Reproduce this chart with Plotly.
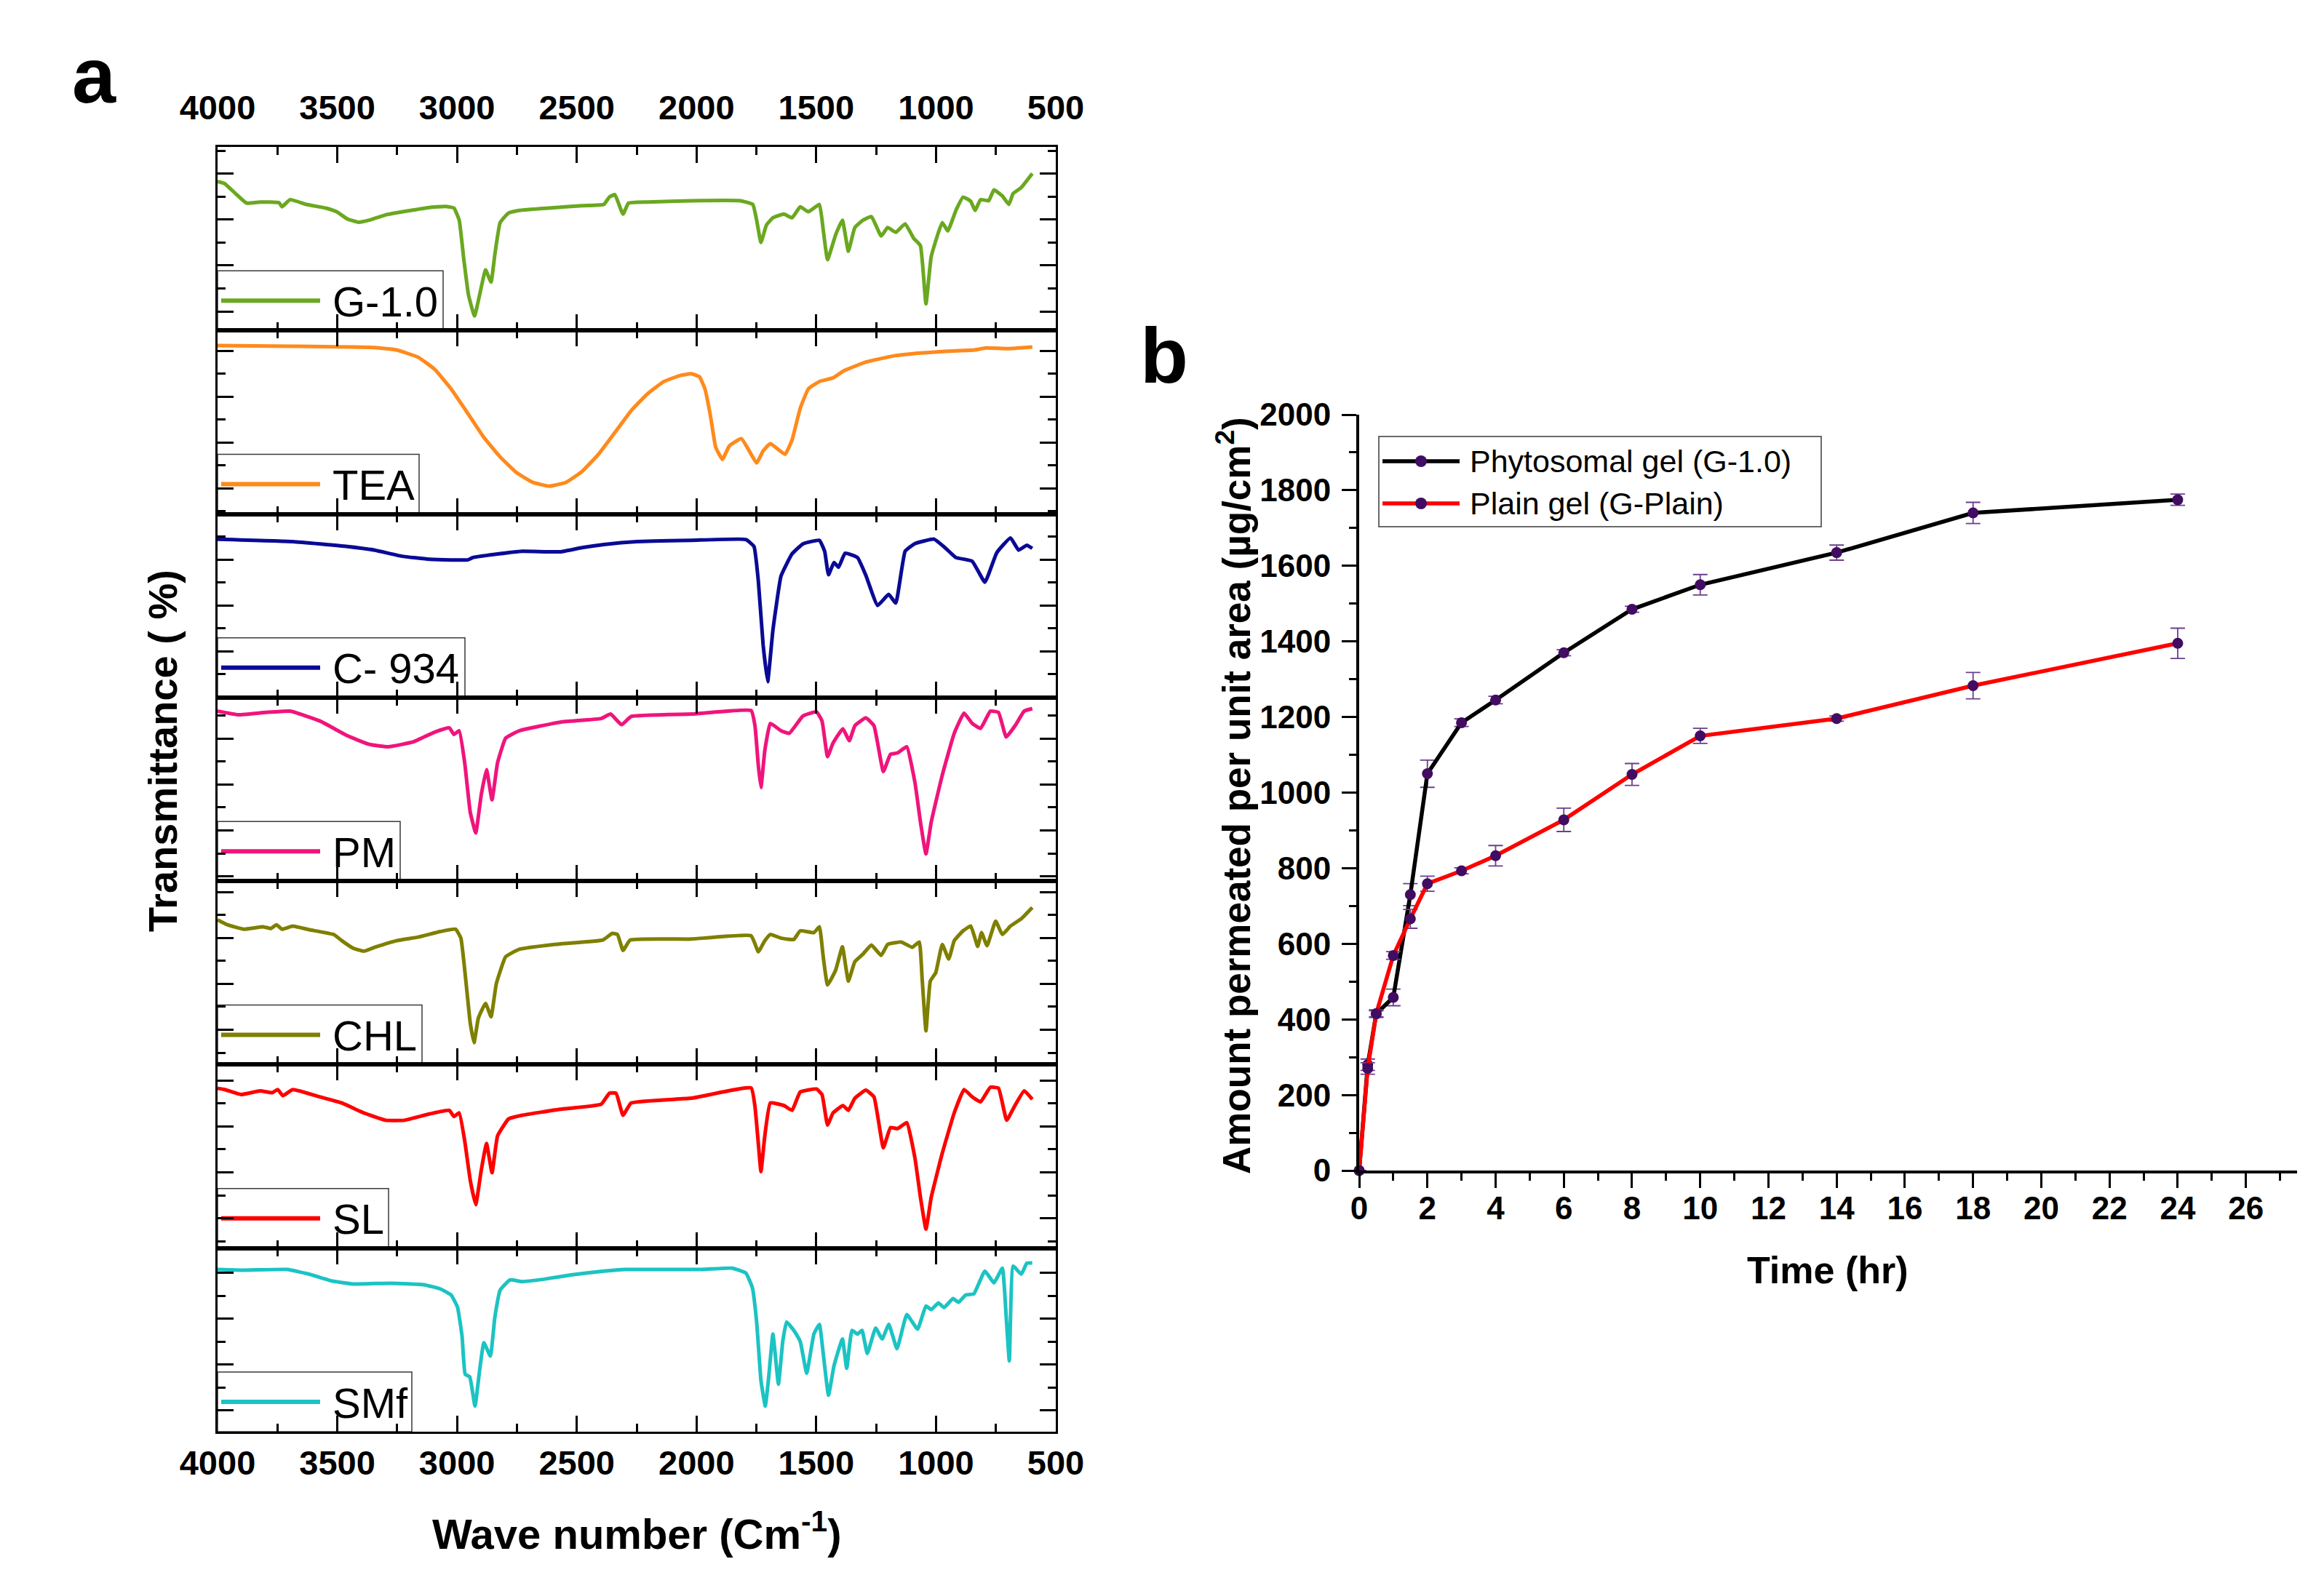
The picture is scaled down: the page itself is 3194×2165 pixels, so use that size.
import plotly.graph_objects as go

W, H = 3194, 2165
FONT = "Arial, Liberation Sans, Helvetica, sans-serif"

# ---------------- Panel a: FTIR spectra (wave number, relative transmittance %) ----------------
spectra_names = ["G-1.0", "TEA", "C- 934", "PM", "CHL", "SL", "SMf"]
spectra_colors = ["#6aa820", "#ff8a1c", "#0a0a96", "#f0147c", "#7f7f00", "#ff0000", "#1cc3c3"]

g10 = [(4000, 81.2), (3970, 80), (3925, 74.6), (3879, 69.4), (3822, 70), (3743, 69.6), (3731, 67.4),
       (3697, 71.3), (3629, 68.7), (3549, 66.7), (3503, 64.7), (3458, 60.8), (3412, 59), (3367, 60.1),
       (3298, 63), (3207, 65.1), (3116, 67), (3048, 67.6), (3013, 66.7), (2991, 60.1), (2972, 39),
       (2952, 19.2), (2927, 7.9), (2904, 20.5), (2881, 33), (2858, 26.4), (2842, 41.6), (2820, 58.8),
       (2785, 64), (2740, 65.4), (2615, 66.7), (2478, 68), (2387, 68.7), (2364, 72.7), (2341, 74),
       (2307, 63.4), (2284, 69.4), (2204, 70), (2022, 70.7), (1817, 70.7), (1765, 68.7), (1749, 60.1),
       (1731, 48), (1708, 57.5), (1681, 61.4), (1635, 63.4), (1601, 61.4), (1567, 67.4), (1533, 64.7),
       (1487, 68.7), (1471, 54.8), (1453, 38.6), (1419, 52.2), (1391, 60.1), (1366, 43.2), (1339, 56.1),
       (1305, 60.1), (1270, 62.1), (1229, 51.5), (1202, 56.1), (1168, 53.5), (1129, 58.1), (1093, 50.2),
       (1065, 46.2), (1042, 14.5), (1020, 40.3), (974, 58.8), (951, 54.2), (917, 65.4), (887, 72.7),
       (855, 70.4), (837, 65.4), (814, 71.3), (780, 70.7), (758, 76.6), (723, 73.3), (696, 68.7),
       (678, 74.6), (644, 77.9), (598, 85.5)]

tea = [(4000, 91.8), (3686, 91.4), (3344, 90.7), (3253, 89.4), (3162, 85.4), (3093, 78.8), (3025, 68.2),
       (2956, 55), (2888, 41.7), (2820, 31.1), (2751, 22.5), (2683, 17.2), (2615, 15.2), (2546, 17.2),
       (2478, 23.2), (2410, 32.5), (2341, 44.4), (2273, 56.3), (2204, 65.6), (2136, 72.2), (2068, 75.5),
       (2022, 76.4), (1988, 74.8), (1965, 68.2), (1942, 53.6), (1920, 36.4), (1892, 29.8), (1863, 37.1),
       (1813, 41.1), (1783, 35.1), (1749, 27.8), (1722, 34.4), (1692, 38.4), (1658, 35.1), (1630, 32.5),
       (1601, 40.4), (1567, 57.6), (1533, 68.2), (1487, 72.2), (1430, 74.2), (1384, 78.1), (1293, 82.8),
       (1179, 86.1), (1065, 87.7), (951, 88.7), (837, 89.4), (792, 90.5), (701, 90.1), (598, 91)]

c934 = [(4000, 86.3), (3686, 85), (3458, 82.3), (3344, 80.3), (3230, 77), (3116, 75.4), (3025, 75),
        (2956, 75), (2934, 76.3), (2842, 78), (2728, 79.7), (2569, 79.4), (2478, 81.7), (2387, 83.4),
        (2250, 85), (2022, 85.7), (1794, 86.1), (1760, 82.3), (1742, 63.6), (1722, 28.8), (1703, 8.7),
        (1681, 36.8), (1647, 66.3), (1601, 78.3), (1556, 83.7), (1487, 85.7), (1465, 79.7), (1449, 66.9),
        (1426, 73.6), (1407, 71), (1380, 78.6), (1328, 76.3), (1294, 66.9), (1244, 50.2), (1198, 56.2),
        (1168, 51.5), (1129, 79.7), (1088, 83.9), (1008, 86.3), (963, 81.7), (917, 76.3), (849, 74.3),
        (796, 62.9), (746, 79), (689, 87), (655, 80.3), (621, 83), (598, 81.3)]

pm = [(4000, 92.6), (3913, 90.6), (3799, 91.9), (3697, 92.6), (3572, 87.2), (3458, 79.2), (3367, 74.5),
      (3287, 73.2), (3184, 75.8), (3093, 81.2), (3032, 83.5), (3013, 79.9), (2991, 81.9), (2968, 64.4),
      (2945, 37.6), (2922, 26.2), (2899, 47), (2877, 60.7), (2854, 44.3), (2831, 64.4), (2797, 77.9),
      (2740, 81.9), (2569, 86.6), (2398, 88.6), (2359, 91), (2313, 85.2), (2273, 89.7), (2022, 91),
      (1772, 92.9), (1756, 84.6), (1742, 63.1), (1731, 51), (1715, 71.1), (1692, 85.9), (1647, 81.9),
      (1613, 80.5), (1556, 89.9), (1499, 92.2), (1476, 87.2), (1453, 67.8), (1430, 75.2), (1389, 83),
      (1362, 76.5), (1339, 84.6), (1293, 88.9), (1259, 84.6), (1220, 59.7), (1190, 69.1), (1161, 69.8),
      (1122, 73.2), (1088, 53.7), (1065, 32.2), (1042, 14.8), (1020, 32.2), (974, 57.7), (924, 80.5),
      (883, 91.5), (849, 85.9), (814, 83.2), (773, 92.6), (739, 91.9), (707, 78.5), (667, 85.2),
      (632, 92.6), (598, 94)]

chl = [(4000, 78.9), (3959, 76.2), (3891, 73.8), (3811, 75.1), (3777, 74.2), (3754, 76.2), (3731, 73.8),
       (3686, 75.5), (3617, 73.5), (3515, 70.9), (3481, 67.5), (3435, 63.5), (3390, 61.8), (3344, 63.9),
       (3253, 67.5), (3162, 69.5), (3070, 72.5), (3006, 73.8), (2984, 68.9), (2961, 42.8), (2945, 22.7),
       (2929, 12), (2911, 25.4), (2881, 33.4), (2858, 26.1), (2836, 44.1), (2797, 58.8), (2740, 62.8),
       (2569, 65.8), (2391, 67.9), (2352, 71.5), (2330, 70.9), (2307, 62.2), (2277, 67.9), (2022, 68.4),
       (1772, 70.2), (1742, 61.5), (1715, 67.5), (1692, 70.9), (1647, 68.9), (1594, 68.2), (1567, 72.9),
       (1510, 71.9), (1487, 75.1), (1471, 58.8), (1453, 43.4), (1419, 51.5), (1391, 64.2), (1366, 45.5),
       (1339, 56.1), (1305, 60.2), (1270, 65.2), (1229, 59.5), (1202, 65.5), (1145, 66.8), (1099, 63.9),
       (1070, 66.8), (1058, 46.8), (1042, 18.4), (1024, 45.5), (1001, 50.1), (974, 65.5), (947, 57.5),
       (924, 67.5), (887, 72.9), (855, 75.5), (826, 64.4), (810, 71.9), (787, 64.8), (751, 78.2),
       (723, 70.9), (689, 75.5), (644, 79.5), (598, 85.6)]

sl = [(4000, 87.1), (3970, 86.4), (3902, 83.7), (3822, 85.7), (3772, 84.7), (3749, 86.4), (3727, 83.1),
      (3686, 86.4), (3572, 82.4), (3481, 79.1), (3390, 73.7), (3298, 69.7), (3219, 69.7), (3116, 73.1),
      (3032, 75.1), (3013, 71.7), (2991, 73.7), (2968, 58.4), (2945, 37.1), (2922, 23.7), (2899, 42.4),
      (2877, 57.1), (2854, 41.1), (2831, 61.1), (2785, 70.4), (2728, 72.4), (2569, 75.7), (2398, 78.4),
      (2364, 84.4), (2336, 84.4), (2307, 72.4), (2273, 79.1), (2022, 81.7), (1772, 87.3), (1756, 77.1),
      (1742, 57.1), (1731, 41.7), (1715, 61.1), (1692, 79.1), (1635, 77.7), (1601, 75.1), (1567, 85.1),
      (1499, 86.7), (1476, 83.7), (1453, 67.1), (1430, 73.7), (1389, 77.7), (1366, 75.1), (1339, 81.7),
      (1293, 86.1), (1259, 82.4), (1220, 54.7), (1190, 65.7), (1161, 65.1), (1122, 68.4), (1088, 49.1),
      (1065, 27.7), (1042, 10.4), (1020, 27.7), (974, 51.7), (924, 73.7), (883, 86.4), (849, 82.4),
      (814, 79.7), (773, 87.7), (739, 87.1), (705, 69.7), (673, 77.1), (632, 85.7), (598, 81.1)]

smf = [(4000, 88.4), (3891, 88), (3708, 88.4), (3617, 85.8), (3526, 82.2), (3435, 80.5), (3275, 80.9),
       (3139, 80.1), (3070, 77.8), (3025, 74.5), (2998, 67.8), (2979, 51.9), (2966, 31.3), (2947, 29.9),
       (2925, 14), (2906, 33.2), (2888, 48.5), (2861, 41.2), (2842, 62.5), (2820, 77.1), (2779, 82.7),
       (2728, 81.8), (2637, 83.1), (2524, 85.4), (2387, 87.5), (2296, 88.4), (1977, 88.4), (1851, 89.1),
       (1794, 86.4), (1767, 78.5), (1749, 59.8), (1731, 27.9), (1713, 14), (1699, 29.3), (1681, 53.2),
       (1658, 25.9), (1640, 49.2), (1624, 59.8), (1590, 54.5), (1567, 49.2), (1540, 31.9), (1510, 53.2),
       (1487, 58.5), (1471, 42.6), (1449, 19.9), (1426, 35.9), (1391, 50.5), (1373, 34.6), (1351, 55.2),
       (1328, 53.2), (1309, 55.2), (1287, 42.6), (1252, 56.5), (1225, 50.5), (1197, 58.5), (1163, 45.2),
       (1122, 63.8), (1077, 55.9), (1042, 68.5), (1020, 66.5), (990, 70.2), (967, 67.6), (929, 72.5),
       (906, 70.5), (876, 74.5), (842, 75.1), (796, 87.5), (758, 81.1), (723, 89.1), (707, 62.5),
       (694, 38.6), (678, 90.2), (644, 85.8), (621, 91.8), (598, 92)]

spectra = [g10, tea, c934, pm, chl, sl, smf]
wn_ticks = [4000, 3500, 3000, 2500, 2000, 1500, 1000, 500]

# ---------------- Panel b: permeation profile ----------------
time_hr = [0, 0.25, 0.5, 1, 1.5, 2, 3, 4, 6, 8, 10, 14, 18, 24]
phyto = [0, 280, 415, 458, 730, 1050, 1185, 1245, 1370, 1485, 1550, 1635, 1740, 1775]
phyto_err = [0, 15, 8, 22, 29, 36, 10, 10, 8, 8, 27, 20, 28, 15]
plain = [0, 270, 415, 569, 666, 759, 793, 833, 928, 1048, 1150, 1196, 1283, 1395]
plain_err = [0, 15, 10, 10, 25, 20, 8, 27, 31, 29, 20, 7, 35, 40]
series_b_names = ["Phytosomal gel (G-1.0)", "Plain gel (G-Plain)"]
series_b_colors = ["#000000", "#ff0000"]

# ---------------- geometry (pixels) ----------------
A_LEFT, A_RIGHT, A_TOP, A_BOT = 299, 1451, 202, 1968
B_LEFT, B_RIGHT, B_TOP, B_BOT = 1868, 3157, 570, 1609
ytick0 = [10.4, 14, 0.2, 2.6, 19, 16.3, 11.6]
box_right = [609, 576, 639, 550, 580, 534, 566]


def fx(p):
    return p / W


def fy(p):
    return 1 - p / H


fig = go.Figure()
layout = {}
shapes = []
annotations = []
ph = (A_BOT - A_TOP) / 7

for i, data in enumerate(spectra):
    k = "" if i == 0 else str(i + 1)
    top = A_TOP + i * ph
    bot = top + ph
    fig.add_trace(go.Scatter(
        x=[p[0] for p in data], y=[p[1] for p in data], mode="lines",
        line=dict(color=spectra_colors[i], width=5, shape="spline", smoothing=0.35),
        xaxis="x" + k, yaxis="y" + k, showlegend=False, hoverinfo="skip"))
    layout["xaxis" + k] = dict(
        domain=[fx(A_LEFT), fx(A_RIGHT)], anchor="y" + k, range=[4000, 500], automargin=False,
        showline=True, linecolor="black", linewidth=3, mirror="ticks",
        ticks="inside", ticklen=22, tickwidth=3, tickcolor="black",
        tickmode="array", tickvals=wn_ticks, ticktext=[str(v) for v in wn_ticks],
        minor=dict(ticks="inside", ticklen=11, tickwidth=3, tickcolor="black",
                   tickmode="linear", tick0=500, dtick=250, showgrid=False),
        showgrid=False, zeroline=False,
        showticklabels=(i in (0, 6)), side="top" if i == 0 else "bottom",
        tickfont=dict(family=FONT, size=47, color="black", weight="bold"),
        ticklabelstandoff=16 if i == 0 else 0)
    layout["yaxis" + k] = dict(
        domain=[fy(bot), fy(top)], anchor="x" + k, range=[0, 100], automargin=False,
        showline=True, linecolor="black", linewidth=3, mirror="ticks",
        ticks="inside", ticklen=22, tickwidth=3, tickcolor="black",
        tickmode="linear", tick0=ytick0[i], dtick=25,
        minor=dict(ticks="inside", ticklen=11, tickwidth=3, tickcolor="black",
                   tickmode="linear", tick0=ytick0[i], dtick=12.5, showgrid=False),
        showgrid=False, zeroline=False, showticklabels=False)
    # legend box for each spectrum
    shapes.append(dict(type="rect", xref="paper", yref="paper", layer="below",
                       x0=fx(A_LEFT), x1=fx(box_right[i]), y0=fy(bot), y1=fy(bot - 82),
                       line=dict(color="#3a3a3a", width=1.5), fillcolor="white"))
    shapes.append(dict(type="line", xref="paper", yref="paper", layer="below",
                       x0=fx(304), x1=fx(440), y0=fy(bot - 41), y1=fy(bot - 41),
                       line=dict(color=spectra_colors[i], width=6)))
    annotations.append(dict(text=spectra_names[i], xref="paper", yref="paper",
                            x=fx(455), y=fy(bot - 40), xanchor="left", yanchor="middle",
                            showarrow=False, font=dict(family=FONT, size=58, color="black")))

# panel b traces
for vals, errs, col, nm in [(phyto, phyto_err, series_b_colors[0], series_b_names[0]),
                            (plain, plain_err, series_b_colors[1], series_b_names[1])]:
    fig.add_trace(go.Scatter(
        x=time_hr, y=vals, mode="lines+markers", name=nm,
        line=dict(color=col, width=5.5),
        marker=dict(color="#420c62", size=15),
        error_y=dict(type="data", array=errs, color="#6b3f8c", thickness=1.8, width=10),
        xaxis="x8", yaxis="y8", showlegend=False, cliponaxis=False))

axis_b_common = dict(showline=True, linecolor="black", linewidth=4, tickcolor="black",
                     tickwidth=3, showgrid=False, zeroline=False, automargin=False)
layout["xaxis8"] = dict(domain=[fx(B_LEFT), fx(B_RIGHT)], anchor="y8", range=[0, 27.5],
                        tickmode="linear", tick0=0, dtick=2, ticks="outside", ticklen=20,
                        minor=dict(ticks="outside", ticklen=10, tickwidth=3, tickcolor="black",
                                   tickmode="linear", tick0=0, dtick=1, showgrid=False),
                        tickfont=dict(family=FONT, size=44, color="black", weight="bold"),
                        ticklabelstandoff=-10, **axis_b_common)
layout["yaxis8"] = dict(domain=[fy(B_BOT), fy(B_TOP)], anchor="x8", range=[0, 2000],
                        tickmode="linear", tick0=0, dtick=200, ticks="outside", ticklen=20,
                        minor=dict(ticks="outside", ticklen=10, tickwidth=3, tickcolor="black",
                                   tickmode="linear", tick0=0, dtick=100, showgrid=False),
                        tickfont=dict(family=FONT, size=44, color="black", weight="bold"),
                        ticklabelstandoff=6, **axis_b_common)
layout["xaxis9"] = dict(overlaying="x8", anchor="y8", side="top", range=[0, 27.5],
                        tickmode="linear", tick0=0, dtick=2, ticks="inside", ticklen=20,
                        minor=dict(ticks="inside", ticklen=10, tickwidth=3, tickcolor="black",
                                   tickmode="linear", tick0=0, dtick=1, showgrid=False),
                        showticklabels=False, **axis_b_common)
layout["yaxis9"] = dict(overlaying="y8", anchor="x8", side="right", range=[0, 2000],
                        tickmode="linear", tick0=0, dtick=200, ticks="inside", ticklen=20,
                        minor=dict(ticks="inside", ticklen=10, tickwidth=3, tickcolor="black",
                                   tickmode="linear", tick0=0, dtick=100, showgrid=False),
                        showticklabels=False, **axis_b_common)

# panel b legend
shapes.append(dict(type="rect", xref="paper", yref="paper", layer="above",
                   x0=fx(1895), x1=fx(2503), y0=fy(724), y1=fy(600),
                   line=dict(color="#3a3a3a", width=1.5), fillcolor="white"))
for j, yy in enumerate([634, 692]):
    shapes.append(dict(type="line", xref="paper", yref="paper", layer="above",
                       x0=fx(1900), x1=fx(2006), y0=fy(yy), y1=fy(yy),
                       line=dict(color=series_b_colors[j], width=5.5)))
    shapes.append(dict(type="circle", xref="paper", yref="paper", layer="above",
                       x0=fx(1945), x1=fx(1961), y0=fy(yy + 8), y1=fy(yy - 8),
                       line=dict(color="#420c62", width=0), fillcolor="#420c62"))
    annotations.append(dict(text=series_b_names[j], xref="paper", yref="paper",
                            x=fx(2018), y=fy(yy), xanchor="left", yanchor="middle",
                            showarrow=False, font=dict(family=FONT, size=43, color="black")))

# titles & panel labels
bold = lambda s: dict(family=FONT, size=s, color="black", weight="bold")
annotations += [
    dict(text="a", x=fx(129), y=fy(104), font=bold(108)),
    dict(text="b", x=fx(1600), y=fy(488), font=bold(108)),
    dict(text="Transmittance ( %)", x=fx(224), y=fy(1032), textangle=-90, font=bold(56)),
    dict(text="Wave number (Cm<sup>-1</sup>)", x=fx(875), y=fy(2104), font=bold(58)),
    dict(text="Time (hr)", x=fx(2512), y=fy(1746), font=bold(52)),
    dict(text="Amount permeated per unit area (µg/cm<sup>2</sup>)", x=fx(1695), y=fy(1094),
         textangle=-90, font=bold(53)),
]
for a in annotations[-6:]:
    a.update(xref="paper", yref="paper", showarrow=False, xanchor="center", yanchor="middle")

fig.update_layout(**layout)
fig.update_layout(template="none", width=W, height=H, autosize=False,
                  margin=dict(l=0, r=0, t=0, b=0, pad=0, autoexpand=False),
                  paper_bgcolor="white", plot_bgcolor="rgba(0,0,0,0)",
                  shapes=shapes, annotations=annotations, showlegend=False,
                  font=dict(family=FONT, color="black"))
fig.write_html("out.html")
